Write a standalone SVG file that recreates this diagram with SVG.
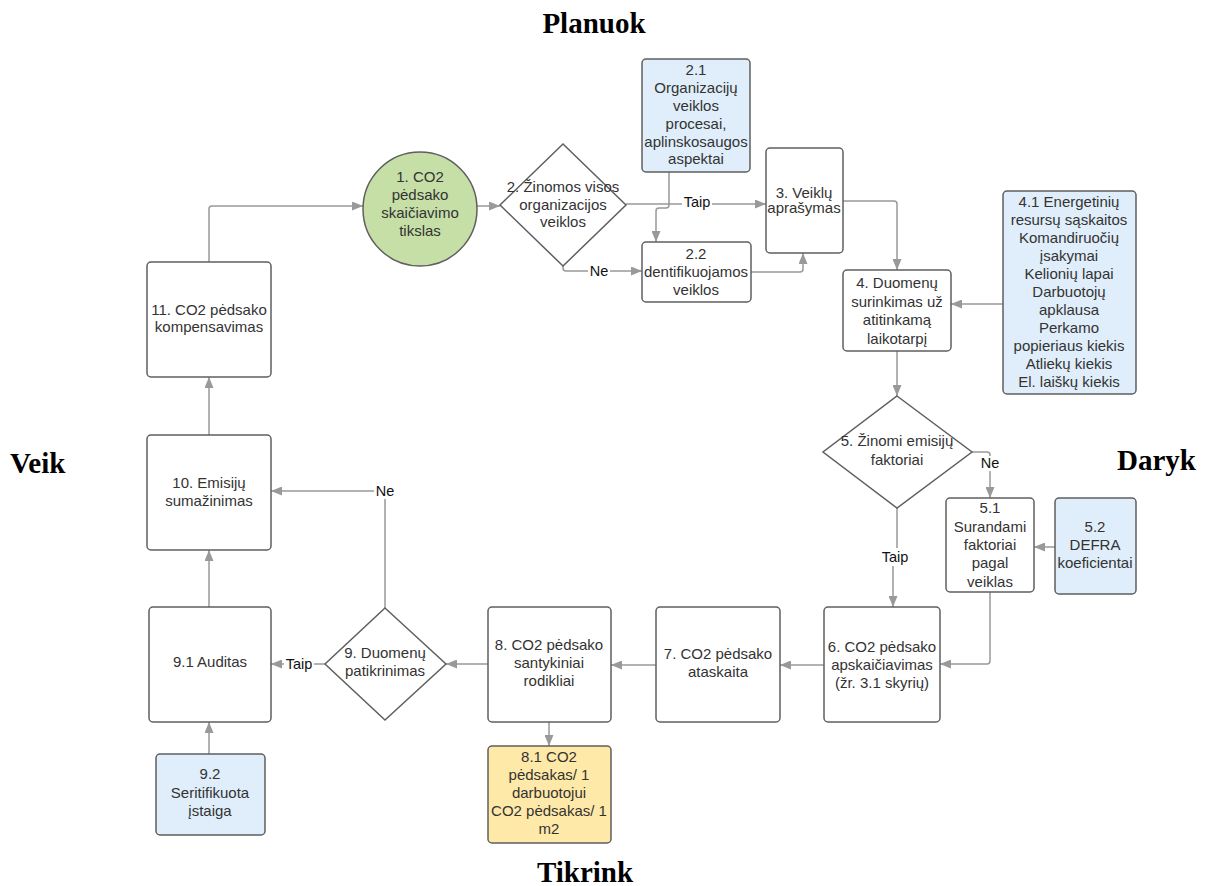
<svg xmlns="http://www.w3.org/2000/svg" width="1207" height="886" viewBox="0 0 1207 886">
  <style>
    .box { fill: #ffffff; stroke: #5f5f5f; stroke-width: 1.5; }
    .blue { fill: #dfeefa; stroke: #5f5f5f; stroke-width: 1.5; }
    .yellow { fill: #ffe9a8; stroke: #5f5f5f; stroke-width: 1.5; }
    .green { fill: #c5dfa7; stroke: #5f5f5f; stroke-width: 1.5; }
    .t { font-family: "Liberation Sans", Arial, sans-serif; font-size: 15px; fill: #333333; text-anchor: middle; }
    .lbl { font-family: "Liberation Sans", Arial, sans-serif; font-size: 14.5px; fill: #111111; text-anchor: middle; }
    .head { font-family: "Liberation Serif", "Times New Roman", serif; font-size: 29px; font-weight: bold; fill: #000000; }
    .conn { fill: none; stroke: #999999; stroke-width: 1.5; }
    .lblbg { fill: #ffffff; }
  </style>
  <defs>
    <marker id="arrow" markerUnits="userSpaceOnUse" markerWidth="11" markerHeight="9" refX="11" refY="4.5" orient="auto">
      <path d="M0,0 L11,4.5 L0,9 z" fill="#999999"/>
    </marker>
  </defs>

  <!-- phase headings -->
  <text class="head" x="594" y="33" text-anchor="middle">Planuok</text>
  <text class="head" x="10" y="473">Veik</text>
  <text class="head" x="1117" y="470">Daryk</text>
  <text class="head" x="585" y="882" text-anchor="middle">Tikrink</text>

  <!-- connectors -->
  <g id="connectors">
    <path class="conn" d="M209 262 V209 Q209 206 212 206 H363" marker-end="url(#arrow)"/>
    <path class="conn" d="M477 206 H500" marker-end="url(#arrow)"/>
    <path class="conn" d="M626 204 H766" marker-end="url(#arrow)"/>
    <path class="conn" d="M669 172 V205 Q669 208 666 208 H659 Q656 208 656 211 V242" marker-end="url(#arrow)"/>
    <path class="conn" d="M563 266 V268 Q563 271 566 271 H642" marker-end="url(#arrow)"/>
    <path class="conn" d="M751 272 H800 Q803 272 803 269 V253" marker-end="url(#arrow)"/>
    <path class="conn" d="M843 201 H894 Q897 201 897 204 V270" marker-end="url(#arrow)"/>
    <path class="conn" d="M1003 304 H951" marker-end="url(#arrow)"/>
    <path class="conn" d="M897 351 V396" marker-end="url(#arrow)"/>
    <path class="conn" d="M972 452 H987 Q990 452 990 455 V498" marker-end="url(#arrow)"/>
    <path class="conn" d="M897 508 V548"/>
    <path class="conn" d="M893 566 V607" marker-end="url(#arrow)"/>
    <path class="conn" d="M1055 547 H1034" marker-end="url(#arrow)"/>
    <path class="conn" d="M990 592 V661 Q990 664 987 664 H940" marker-end="url(#arrow)"/>
    <path class="conn" d="M824 665 H780" marker-end="url(#arrow)"/>
    <path class="conn" d="M656 665 H611" marker-end="url(#arrow)"/>
    <path class="conn" d="M488 664 H446" marker-end="url(#arrow)"/>
    <path class="conn" d="M325 664 H271" marker-end="url(#arrow)"/>
    <path class="conn" d="M385 608 V491 H271" marker-end="url(#arrow)"/>
    <path class="conn" d="M209 607 V550" marker-end="url(#arrow)"/>
    <path class="conn" d="M209 435 V377" marker-end="url(#arrow)"/>
    <path class="conn" d="M209 754 V722" marker-end="url(#arrow)"/>
    <path class="conn" d="M549 722 V746" marker-end="url(#arrow)"/>

    <!-- connector labels -->
    <rect class="lblbg" x="682" y="194" width="30" height="16"/>
    <text class="lbl" x="697" y="207">Taip</text>
    <rect class="lblbg" x="588" y="263" width="22" height="16"/>
    <text class="lbl" x="599" y="276">Ne</text>
    <rect class="lblbg" x="980" y="456" width="20" height="15"/>
    <text class="lbl" x="990" y="468">Ne</text>
    <text class="lbl" x="895" y="562">Taip</text>
    <rect class="lblbg" x="284" y="656" width="30" height="16"/>
    <text class="lbl" x="299" y="669">Taip</text>
    <rect class="lblbg" x="374" y="483" width="22" height="16"/>
    <text class="lbl" x="385" y="496">Ne</text>
  </g>

  <!-- 1. goal -->
  <g id="n1">
    <circle class="green" cx="420" cy="209" r="57"/>
    <text class="t" x="420" y="182">1. CO2</text>
    <text class="t" x="420" y="200">pėdsako</text>
    <text class="t" x="420" y="218">skaičiavimo</text>
    <text class="t" x="420" y="236">tikslas</text>
  </g>

  <!-- 2. decision: known activities -->
  <g id="n2">
    <polygon class="box" points="563,144 626,205 563,266 500,205"/>
    <text class="t" x="563" y="192">2. Žinomos visos</text>
    <text class="t" x="563" y="210">organizacijos</text>
    <text class="t" x="563" y="227">veiklos</text>
  </g>

  <!-- 2.1 input -->
  <g id="n2_1">
    <rect class="blue" x="642" y="59" width="108" height="113" rx="4"/>
    <text class="t" x="696" y="75">2.1</text>
    <text class="t" x="696" y="93">Organizacijų</text>
    <text class="t" x="696" y="111">veiklos</text>
    <text class="t" x="696" y="129">procesai,</text>
    <text class="t" x="696" y="147">aplinskosaugos</text>
    <text class="t" x="696" y="164">aspektai</text>
  </g>

  <!-- 2.2 -->
  <g id="n2_2">
    <rect class="box" x="642" y="242" width="109" height="60" rx="4"/>
    <text class="t" x="696" y="259">2.2</text>
    <text class="t" x="696" y="277">dentifikuojamos</text>
    <text class="t" x="696" y="295">veiklos</text>
  </g>

  <!-- 3 -->
  <g id="n3">
    <rect class="box" x="766" y="148" width="77" height="105" rx="4"/>
    <text class="t" x="804" y="198">3. Veiklų</text>
    <text class="t" x="804" y="213">aprašymas</text>
  </g>

  <!-- 4 -->
  <g id="n4">
    <rect class="box" x="843" y="270" width="108" height="81" rx="4"/>
    <text class="t" x="897" y="288">4. Duomenų</text>
    <text class="t" x="897" y="307">surinkimas už</text>
    <text class="t" x="897" y="325">atitinkamą</text>
    <text class="t" x="897" y="344">laikotarpį</text>
  </g>

  <!-- 4.1 data sources -->
  <g id="n4_1">
    <rect class="blue" x="1003" y="191" width="133" height="203" rx="4"/>
    <text class="t" x="1069" y="207">4.1 Energetinių</text>
    <text class="t" x="1069" y="225">resursų sąskaitos</text>
    <text class="t" x="1069" y="243">Komandiruočių</text>
    <text class="t" x="1069" y="261">įsakymai</text>
    <text class="t" x="1069" y="279">Kelionių lapai</text>
    <text class="t" x="1069" y="297">Darbuotojų</text>
    <text class="t" x="1069" y="315">apklausa</text>
    <text class="t" x="1069" y="333">Perkamo</text>
    <text class="t" x="1069" y="351">popieriaus kiekis</text>
    <text class="t" x="1069" y="369">Atliekų kiekis</text>
    <text class="t" x="1069" y="387">El. laiškų kiekis</text>
  </g>

  <!-- 5. decision: emission factors -->
  <g id="n5">
    <polygon class="box" points="897,396 972,452 897,508 823,452"/>
    <text class="t" x="897" y="446">5. Žinomi emisijų</text>
    <text class="t" x="897" y="465">faktoriai</text>
  </g>

  <!-- 5.1 -->
  <g id="n5_1">
    <rect class="box" x="946" y="498" width="88" height="94" rx="4"/>
    <text class="t" x="990" y="513">5.1</text>
    <text class="t" x="990" y="532">Surandami</text>
    <text class="t" x="990" y="550">faktoriai</text>
    <text class="t" x="990" y="568">pagal</text>
    <text class="t" x="990" y="587">veiklas</text>
  </g>

  <!-- 5.2 -->
  <g id="n5_2">
    <rect class="blue" x="1055" y="498" width="81" height="96" rx="4"/>
    <text class="t" x="1095" y="532">5.2</text>
    <text class="t" x="1095" y="550">DEFRA</text>
    <text class="t" x="1095" y="568">koeficientai</text>
  </g>

  <!-- 6 -->
  <g id="n6">
    <rect class="box" x="824" y="607" width="116" height="115" rx="4"/>
    <text class="t" x="882" y="652">6. CO2 pėdsako</text>
    <text class="t" x="882" y="670">apskaičiavimas</text>
    <text class="t" x="882" y="688">(žr. 3.1 skyrių)</text>
  </g>

  <!-- 7 -->
  <g id="n7">
    <rect class="box" x="656" y="607" width="124" height="115" rx="4"/>
    <text class="t" x="718" y="659">7. CO2 pėdsako</text>
    <text class="t" x="718" y="677">ataskaita</text>
  </g>

  <!-- 8 -->
  <g id="n8">
    <rect class="box" x="488" y="607" width="123" height="115" rx="4"/>
    <text class="t" x="549" y="650">8. CO2 pėdsako</text>
    <text class="t" x="549" y="668">santykiniai</text>
    <text class="t" x="549" y="686">rodikliai</text>
  </g>

  <!-- 8.1 -->
  <g id="n8_1">
    <rect class="yellow" x="488" y="746" width="123" height="97" rx="4"/>
    <text class="t" x="549" y="762">8.1 CO2</text>
    <text class="t" x="549" y="780">pėdsakas/ 1</text>
    <text class="t" x="549" y="798">darbuotojui</text>
    <text class="t" x="549" y="816">CO2 pėdsakas/ 1</text>
    <text class="t" x="549" y="834">m2</text>
  </g>

  <!-- 9. decision: data check -->
  <g id="n9">
    <polygon class="box" points="385,608 446,664 385,720 325,664"/>
    <text class="t" x="385" y="658">9. Duomenų</text>
    <text class="t" x="385" y="676">patikrinimas</text>
  </g>

  <!-- 9.1 -->
  <g id="n9_1">
    <rect class="box" x="149" y="607" width="122" height="115" rx="4"/>
    <text class="t" x="210" y="667">9.1 Auditas</text>
  </g>

  <!-- 9.2 -->
  <g id="n9_2">
    <rect class="blue" x="156" y="754" width="109" height="81" rx="4"/>
    <text class="t" x="210" y="779">9.2</text>
    <text class="t" x="210" y="798">Seritifikuota</text>
    <text class="t" x="210" y="816">įstaiga</text>
  </g>

  <!-- 10 -->
  <g id="n10">
    <rect class="box" x="147" y="435" width="124" height="115" rx="4"/>
    <text class="t" x="209" y="488">10. Emisijų</text>
    <text class="t" x="209" y="506">sumažinimas</text>
  </g>

  <!-- 11 -->
  <g id="n11">
    <rect class="box" x="147" y="262" width="124" height="115" rx="4"/>
    <text class="t" x="209" y="315">11. CO2 pėdsako</text>
    <text class="t" x="209" y="332">kompensavimas</text>
  </g>
</svg>
